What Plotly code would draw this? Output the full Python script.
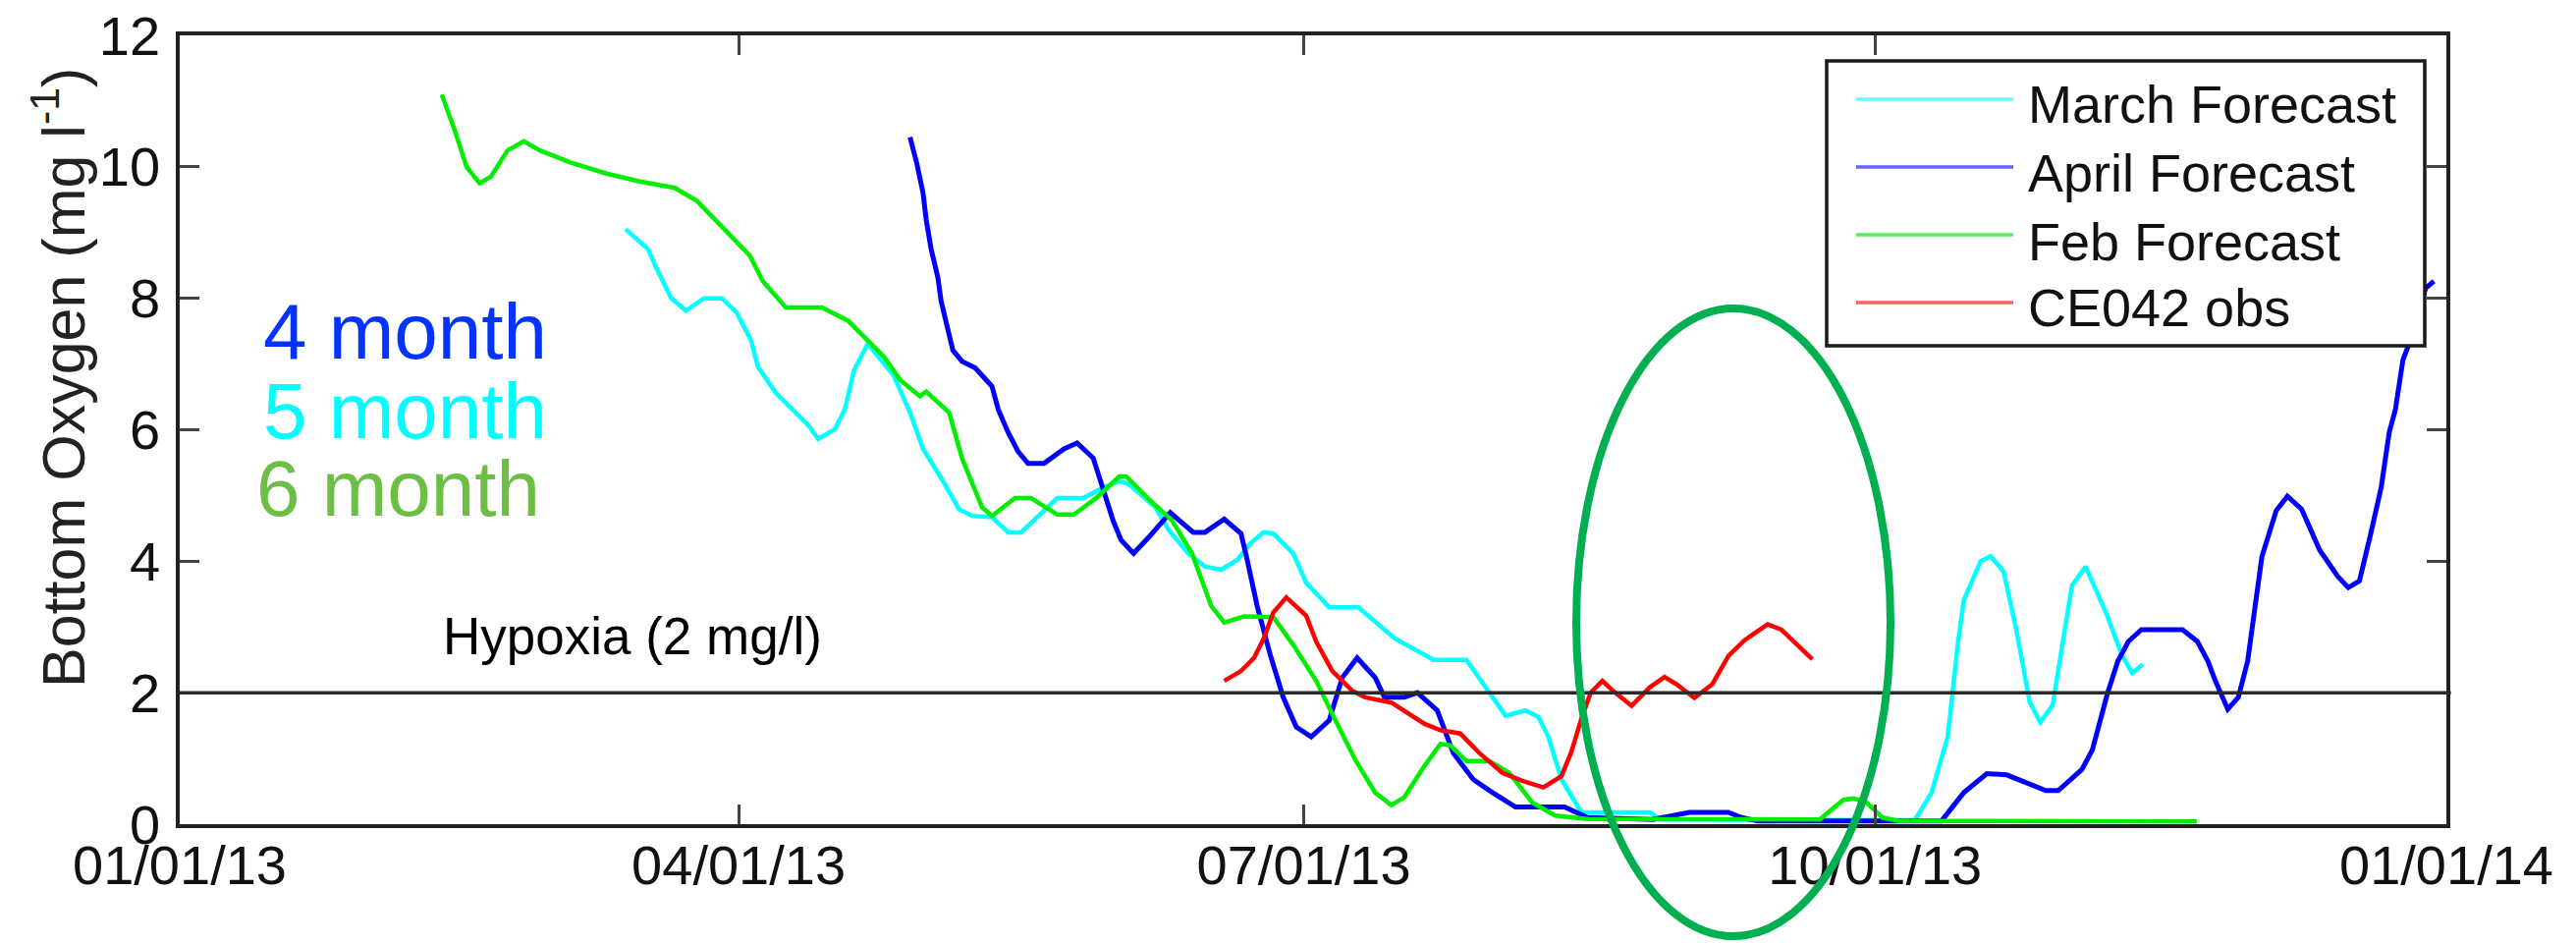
import pandas as pd
import plotly.graph_objects as go

BASE_DATE = "2013-01-01"

# ---- data: x = days since 2013-01-01, y = bottom oxygen (mg/l) ----
march_days = [71.8, 75.4, 76.5, 78.1, 79.1, 81.5, 84.4, 87.3, 89.7, 92.0, 93.1, 96.0, 101.3, 102.8, 105.5,
              107.1, 108.6, 110.8, 115.0, 117.6, 119.7, 122.9, 125.5, 127.6, 130.8, 133.4, 135.5, 141.3,
              145.5, 148.7, 151.3, 152.9, 157.1, 159.3, 162.4, 165.1, 167.7, 170.3, 172.4, 174.5, 176.1,
              179.3, 181.4, 185.1, 189.8, 195.6, 201.9, 207.2, 209.9, 213.5, 216.7, 218.8, 220.4, 222.5,
              225.7, 236.8, 238.3, 279.4, 282.1, 284.7, 286.3, 287.3, 290.0, 291.6, 293.7, 295.8, 297.9,
              299.6, 301.6, 303.2, 304.7, 306.9, 310.4, 312.7, 314.4, 316.1]
march_vals = [9.05, 8.75, 8.51, 8.21, 8.01, 7.81, 8.00, 8.00, 7.78, 7.36, 6.96, 6.56, 6.06, 5.86, 6.01,
              6.31, 6.91, 7.31, 6.82, 6.26, 5.71, 5.22, 4.79, 4.69, 4.67, 4.44, 4.44, 4.96,
              4.96, 5.12, 5.22, 5.17, 4.82, 4.47, 4.12, 3.92, 3.87, 4.02, 4.27, 4.44, 4.42,
              4.12, 3.67, 3.30, 3.30, 2.83, 2.50, 2.50, 2.13, 1.65, 1.73, 1.63, 1.33, 0.68,
              0.18, 0.18, 0.07, 0.06, 0.48, 1.33, 2.72, 3.41, 4.00, 4.08, 3.84, 2.93, 1.86,
              1.55, 1.81, 2.72, 3.63, 3.92, 3.17, 2.58, 2.30, 2.43]

april_days = [117.6, 118.7, 119.7, 120.2, 121.0, 122.1, 122.6, 123.4, 124.5, 126.0,
              128.1, 130.8, 131.8, 133.4, 135.0, 136.6, 139.2, 142.4, 144.5, 147.1,
              148.5, 150.3, 151.6, 153.6, 156.1, 159.5, 163.2, 165.1, 168.2, 170.9,
              171.9, 173.5, 175.6, 177.7, 179.8, 182.2, 185.1, 187.2, 189.6, 192.5,
              194.0, 197.2, 199.3, 202.5, 205.1, 208.3, 211.4, 215.1, 223.0, 226.7,
              237.2, 243.1, 249.4, 251.5, 254.1, 283.7, 287.3, 291.0, 294.2, 297.6,
              300.5, 302.5, 306.3, 308.0, 310.4, 312.1, 313.8, 315.9, 322.5, 324.9,
              326.6, 327.8, 329.8, 331.5, 333.0, 335.3, 337.6, 339.4, 341.7, 344.6,
              347.5, 349.2, 351.0, 352.7, 354.5, 355.8, 356.8, 358.0, 358.8, 360.1,
              361.7, 363.0]
april_vals = [10.45, 10.05, 9.60, 9.20, 8.75, 8.31, 7.96, 7.61, 7.21, 7.04,
              6.94, 6.66, 6.31, 5.96, 5.67, 5.49, 5.49, 5.71, 5.80, 5.57,
              5.17, 4.62, 4.32, 4.12, 4.37, 4.74, 4.44, 4.44, 4.64, 4.42,
              4.02, 3.32, 2.58, 1.93, 1.48, 1.33, 1.58, 2.23, 2.53, 2.23,
              1.93, 1.93, 2.00, 1.73, 1.08, 0.68, 0.48, 0.26, 0.26, 0.10,
              0.07, 0.18, 0.18, 0.10, 0.05, 0.05, 0.48, 0.77, 0.75, 0.63,
              0.51, 0.51, 0.83, 1.13, 1.98, 2.48, 2.78, 2.96, 2.96, 2.78,
              2.48, 2.18, 1.75, 1.93, 2.48, 4.07, 4.77, 4.99, 4.79, 4.17,
              3.77, 3.60, 3.70, 4.37, 5.12, 5.96, 6.31, 7.06, 7.26, 7.70,
              8.16, 8.26]

feb_days = [42.2, 44.3, 46.2, 48.3, 50.1, 52.8, 55.4, 58.0, 62.8, 68.6, 73.9, 79.7, 83.3, 91.8, 93.9,
            97.6, 103.4, 107.6, 113.4, 116.0, 119.2, 120.2, 123.9, 126.0, 129.2, 130.8, 134.5, 137.1,
            141.3, 144.0, 147.7, 151.3, 152.4, 156.1, 159.8, 163.0, 166.1, 168.2, 171.4, 176.1, 179.3,
            183.0, 186.1, 189.3, 192.5, 195.1, 197.2, 200.4, 203.0, 204.6, 207.2, 210.9, 214.1, 217.8,
            221.5, 226.7, 264.1, 267.9, 269.5, 271.5, 274.2, 276.8, 324.8]
feb_vals = [11.10, 10.55, 10.00, 9.75, 9.85, 10.25, 10.39, 10.25, 10.07, 9.90, 9.78, 9.68, 9.48, 8.65, 8.26,
            7.86, 7.86, 7.66, 7.11, 6.76, 6.51, 6.58, 6.26, 5.56, 4.82, 4.69, 4.96, 4.96,
            4.71, 4.71, 4.97, 5.29, 5.29, 4.94, 4.62, 4.12, 3.32, 3.07, 3.16, 3.15, 2.73,
            2.18, 1.58, 0.98, 0.48, 0.29, 0.41, 0.88, 1.22, 1.20, 0.96, 0.96, 0.78, 0.33,
            0.13, 0.08, 0.07, 0.37, 0.39, 0.34, 0.10, 0.05, 0.04]

obs_days = [168.2, 170.9, 173.0, 174.6, 176.1, 178.2, 181.4, 183.0, 185.6, 188.8,
            190.9, 195.1, 200.4, 203.0, 206.2, 209.3, 213.0, 216.2, 219.6, 222.5,
            224.1, 225.7, 227.2, 229.1, 230.9, 233.8, 236.7, 239.1, 241.0, 243.9,
            246.8, 249.4, 252.0, 255.7, 257.9, 260.5, 262.9]
obs_vals = [2.18, 2.33, 2.53, 2.83, 3.22, 3.45, 3.17, 2.78, 2.33, 2.03,
            1.93, 1.85, 1.53, 1.43, 1.38, 1.08, 0.78, 0.66, 0.56, 0.73,
            1.10, 1.60, 2.00, 2.18, 2.02, 1.80, 2.08, 2.24, 2.13, 1.92,
            2.13, 2.56, 2.80, 3.04, 2.96, 2.72, 2.51]

series_names = ["March Forecast", "April Forecast", "Feb Forecast", "CE042 obs"]
series_colors = ["#00FFFF", "#0000FF", "#00EE00", "#FF0000"]
series_widths = [4.5, 5, 4.5, 4.5]
legend_colors = ["#66FFFF", "#6464FF", "#55EE55", "#FF6060"]

tick_dates = ["2013-01-01", "2013-04-01", "2013-07-01", "2013-10-01", "2014-01-01"]
tick_labels = ["01/01/13", "04/01/13", "07/01/13", "10/01/13", "01/01/14"]
y_ticks = [0, 2, 4, 6, 8, 10, 12]
HYPOXIA = 2

lead_labels = ["4 month", "5 month", "6 month"]
lead_colors = ["#0433FF", "#00FDFF", "#6DBE45"]


def to_dates(days):
    return pd.Timestamp(BASE_DATE) + pd.to_timedelta(days, unit="D")


# ---- geometry (page pixels; the page body adds an 8px margin) ----
BODY = 8
FIG_W, FIG_H = 2623 - BODY, 962 - BODY
PL, PR, PT, PB = 183, 2491, 36, 839   # plot box in page pixels


def px(x):
    return (x - PL) / (PR - PL)


def py(y):
    return (PB - y) / (PB - PT)


FONT = "Liberation Sans, Arial, Helvetica, sans-serif"

fig = go.Figure()
all_series = [(march_days, march_vals), (april_days, april_vals),
              (feb_days, feb_vals), (obs_days, obs_vals)]
for (d, v), name, col, w in zip(all_series, series_names, series_colors, series_widths):
    fig.add_trace(go.Scatter(x=to_dates(d), y=v, mode="lines", name=name,
                             line=dict(color=col, width=w), showlegend=False))

shapes = []
shapes.append(dict(type="line", xref="paper", x0=0, x1=1.002, yref="y", y0=HYPOXIA, y1=HYPOXIA,
                   line=dict(color="#2a2a2a", width=3.5), layer="above"))
shapes.append(dict(type="circle", xref="paper", yref="paper",
                   x0=px(1605), x1=px(1925), y0=py(953), y1=py(314),
                   line=dict(color="#00B050", width=8), fillcolor="rgba(0,0,0,0)", layer="above"))
shapes.append(dict(type="rect", xref="paper", yref="paper",
                   x0=px(1860), x1=px(2469), y0=py(352), y1=py(62),
                   line=dict(color="#1a1a1a", width=3.5), fillcolor="white", layer="above"))
row_line_y = [101, 170, 239, 308]
row_text_y = [106, 175.5, 245.5, 312.5]
for ly, col in zip(row_line_y, legend_colors):
    shapes.append(dict(type="line", xref="paper", yref="paper",
                       x0=px(1890), x1=px(2050), y0=py(ly), y1=py(ly),
                       line=dict(color=col, width=3.5), layer="above"))

annotations = []
for ty, name in zip(row_text_y, series_names):
    annotations.append(dict(xref="paper", yref="paper", x=px(2063), y=py(ty), text=name,
                            showarrow=False, xanchor="left", yanchor="middle",
                            font=dict(family=FONT, size=54, color="#111111")))
annotations.append(dict(xref="paper", yref="paper", x=px(60), y=py(385),
                        text="Bottom Oxygen (mg l<sup>-1</sup>)", textangle=-90,
                        showarrow=False, xanchor="center", yanchor="middle",
                        font=dict(family=FONT, size=61, color="#222222")))
annotations.append(dict(xref="paper", yref="paper", x=px(449), y=py(647),
                        text="Hypoxia (2 mg/l)", showarrow=False, xanchor="left", yanchor="middle",
                        font=dict(family=FONT, size=53, color="black")))
for lbl, col, lx, ly in zip(lead_labels, lead_colors, [266, 266, 259], [337, 418, 497]):
    annotations.append(dict(xref="paper", yref="paper", x=px(lx), y=py(ly), text=lbl,
                            showarrow=False, xanchor="left", yanchor="middle",
                            font=dict(family=FONT, size=80, color=col)))

axis_common = dict(showline=True, linecolor="#222222", linewidth=3.5, mirror="ticks",
                   ticks="inside", ticklen=20, tickwidth=3, tickcolor="#444444",
                   showgrid=False, zeroline=False, ticklabeloverflow="allow",
                   automargin=False,
                   tickfont=dict(family=FONT, size=56, color="#111111"))

fig.update_layout(
    width=FIG_W, height=FIG_H,
    margin=dict(l=PL - BODY, r=FIG_W + BODY - PR, t=PT - BODY, b=FIG_H + BODY - PB, pad=0,
                autoexpand=False),
    paper_bgcolor="white", plot_bgcolor="white",
    showlegend=False,
    xaxis=dict(type="date", range=[tick_dates[0], tick_dates[-1]],
               tickmode="array", tickvals=tick_dates, ticktext=tick_labels,
               ticklabelstandoff=-10, **axis_common),
    yaxis=dict(range=[0, 12], tickmode="array", tickvals=y_ticks,
               ticktext=[str(t) for t in y_ticks], ticklabelstandoff=5, **axis_common),
    shapes=shapes,
    annotations=annotations,
)

fig.write_html("out.html")
